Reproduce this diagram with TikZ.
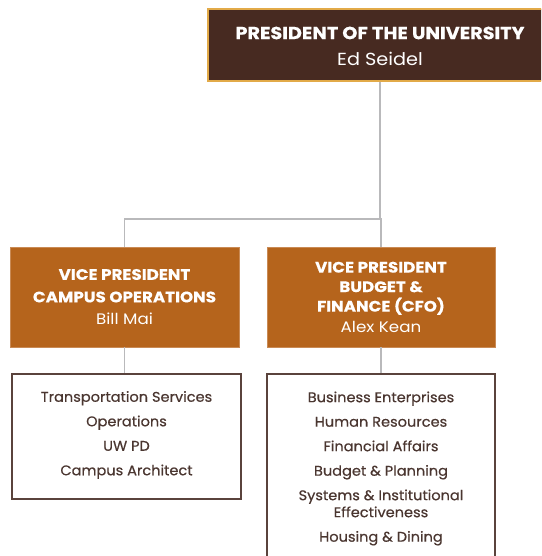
\documentclass[tikz,border=0pt]{standalone}
\usepackage{fontspec}
\setmainfont{Poppins}
\newfontfamily\headfont[FakeStretch=1.1, BoldFeatures={FakeBold=0.4}]{Poppins}
\newfontfamily\listfont[FakeStretch=1.04, FakeBold=0.5]{Poppins}
\definecolor{presfill}{HTML}{472A21}
\definecolor{presborder}{HTML}{E2AA48}
\definecolor{vpfill}{HTML}{B5641C}
\definecolor{vpborder}{HTML}{C98A55}
\definecolor{conncol}{HTML}{B9B9BB}
\definecolor{listborder}{HTML}{5A433C}
\definecolor{listtextcol}{HTML}{4A3630}
\tikzset{
  presbox/.style={draw=presborder, line width=1.2pt, fill=presfill, minimum width=344pt, minimum height=72pt, inner sep=0pt},
  vpbox/.style={draw=vpborder, line width=0.6pt, fill=vpfill, minimum width=229pt, minimum height=100pt, inner sep=0pt},
  listbox/.style={draw=listborder, line width=1.4pt, fill=white, inner sep=0pt},
  headtext/.style={text=white, align=center, inner sep=0pt},
  listtext/.style={text=listtextcol, align=center, inner sep=0pt, font=\listfont\fontsize{14}{24.5}\selectfont},
  conn/.style={draw=conncol, line width=1.8pt}
}
\begin{document}
\begin{tikzpicture}[x=1pt,y=-1pt]
\useasboundingbox (0,0) rectangle (541,556);
\clip (0,0) rectangle (541,556);
\fill[white] (0,0) rectangle (541,556);
% boxes
\node[presbox] (pres) at (380,45) {};
\node[headtext, font=\headfont\fontsize{17.5}{26}\selectfont] (prest) at (380,46)
  {\textbf{PRESIDENT OF THE UNIVERSITY}\\ Ed Seidel};
\node[vpbox] (vp1) at (124.5,297) {};
\node[headtext, font=\headfont\fontsize{15.2}{22.5}\selectfont] (vp1t) at (124.5,297)
  {\textbf{VICE PRESIDENT}\\ \textbf{CAMPUS OPERATIONS}\\ Bill Mai};
\node[vpbox, minimum width=228pt] (vp2) at (381,297) {};
\node[headtext, font=\headfont\fontsize{15.2}{19.5}\selectfont] (vp2t) at (381,297)
  {\textbf{VICE PRESIDENT}\\ \textbf{BUDGET \&}\\ \textbf{FINANCE (CFO)}\\[1pt] Alex Kean};
\node[listbox, minimum width=229pt, minimum height=125pt] (l1) at (126.5,436.5) {};
\node[listtext] (l1t) at (126.5,435)
  {Transportation Services\\ Operations\\ UW PD\\ Campus Architect};
\node[listbox, minimum width=228pt, minimum height=192pt] (l2) at (381,470) {};
\node[listtext] (l2t) at (381,468.5)
  {Business Enterprises\\ Human Resources\\ Financial Affairs\\ Budget \& Planning\\ Systems \& Institutional\\[-7.5pt] Effectiveness\\ Housing \& Dining};
% connectors
\coordinate (j) at (380,219);
\draw[conn] (pres.south) -- (j) -| (vp1.north);
\draw[conn] (j) -- (j -| vp2.north) -- (vp2.north);
\draw[conn] (vp1.south) -- (vp1.south |- l1.north);
\draw[conn] (vp2.south) -- (vp2.south |- l2.north);
\end{tikzpicture}
\end{document}
